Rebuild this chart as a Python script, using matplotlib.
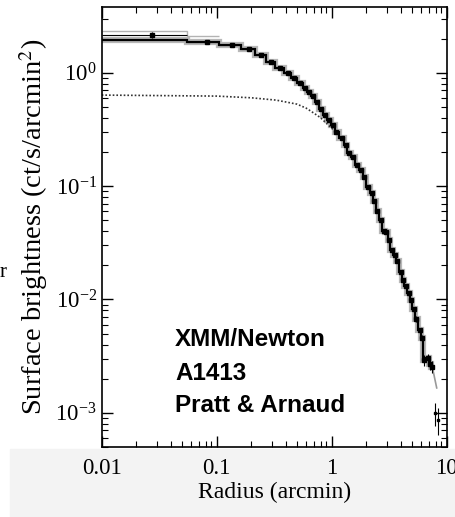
"""Surface brightness profile of A1413 (XMM/Newton)."""
import numpy as np
import matplotlib
matplotlib.use("Agg")
import matplotlib.pyplot as plt
from matplotlib import ticker
from matplotlib.patches import Rectangle

# measured profile (arcmin, ct/s/arcmin^2)
r_data = [0.0272, 0.0819, 0.136, 0.192, 0.244, 0.298, 0.353, 0.413, 0.470, 0.530,
          0.592, 0.639, 0.692, 0.750, 0.807, 0.875, 0.953, 1.03, 1.10, 1.22,
          1.32, 1.42, 1.52, 1.65, 1.80, 1.92, 2.08, 2.23, 2.33, 2.49,
          2.67, 2.85, 2.97, 3.15, 3.32, 3.55, 3.72, 3.98, 4.14, 4.42,
          4.70, 4.89, 5.20, 5.45, 5.87, 6.14, 6.39, 6.84, 7.16, 7.50]
S_data = [2.16, 1.88, 1.76, 1.61, 1.42, 1.236, 1.107, 1.0, 0.898, 0.811,
          0.735, 0.679, 0.625, 0.551, 0.480, 0.428, 0.381, 0.344, 0.301, 0.266,
          0.229, 0.196, 0.181, 0.153, 0.138, 0.120, 0.098, 0.0867, 0.0732, 0.0598,
          0.0507, 0.040, 0.0392, 0.0336, 0.0274, 0.0247, 0.0217, 0.0173, 0.0149, 0.0132,
          0.0113, 0.00993, 0.00822, 0.00678, 0.00536, 0.00461, 0.00291, 0.00303, 0.00268, 0.00255]
S_err = [0.13, 0.05, 0.04, 0.03, 0.025, 0.02, 0.018, 0.016, 0.014, 0.012,
         0.011, 0.010, 0.009, 0.008, 0.007, 0.006, 0.006, 0.005, 0.005, 0.004,
         0.004, 0.004, 0.003, 0.003, 0.003, 0.003, 0.002, 0.002, 0.002, 0.0018,
         0.0015, 0.0013, 0.0012, 0.0011, 0.0009, 0.0008, 0.0007, 0.0006, 0.0006, 0.0005,
         0.0005, 0.0004, 0.0004, 0.0004, 0.0003, 0.0003, 0.0003, 0.0003, 0.0003, 0.0003]
# model step: follows the data except in the central bin
S_model_center = 1.95
band_hi = [2.34, 2.11]          # upper envelope, two central bins

# outermost points and faint tail
r_out = [7.91, 8.46]
S_out = [0.00099, 0.00087]
S_out_err = [0.00023, 0.00023]
tail_r = [7.50, 7.80, 8.19]
tail_S = [0.00255, 0.0021, 0.00166]

# dotted curve
dot_r = [0.01, 0.1, 0.2, 0.33, 0.5, 0.6, 0.7, 0.8, 0.9, 1.0, 1.1]
dot_S = [0.635, 0.622, 0.601, 0.573, 0.528, 0.487, 0.440, 0.401, 0.358, 0.324, 0.295]

plt.rcParams["font.family"] = ["Liberation Serif", "DejaVu Serif"]
plt.rcParams["mathtext.fontset"] = "stix"
plt.rcParams["axes.unicode_minus"] = False

fig = plt.figure(figsize=(4.55, 5.17), dpi=100)
fig.patches.append(Rectangle((0.022, 0), 0.978, 0.131, transform=fig.transFigure,
                             color="#f3f3f3", zorder=-10))
ax = fig.add_axes([0.2235, 0.1354, 0.7582, 0.8511])
ax.patch.set_alpha(0)

r = np.array(r_data)
S = np.array(S_data)
edges = np.concatenate([[0.01, 0.055], np.sqrt(r[1:-1] * r[2:]), [7.8]])
S_model = S.copy()
S_model[0] = S_model_center
xlo = r - edges[:-1]
xhi = edges[1:] - r

ax.stairs(band_hi, edges[:3], color="0.7", lw=1, baseline=None, zorder=1)
ax.stairs(S_model, edges, color="0.72", lw=4.5, baseline=None, zorder=1)
ax.plot(tail_r, tail_S, color="0.6", lw=1.2, zorder=1)
ax.stairs(S_model, edges, color="k", lw=1.6, baseline=None, zorder=2)
ax.errorbar(r, S, yerr=S_err, xerr=[xlo, xhi], fmt="s", color="k", ms=2.5,
            elinewidth=0.8, capsize=0, zorder=3)
ax.errorbar(r_out, S_out, yerr=S_out_err, fmt="s", color="k", ms=2,
            elinewidth=0.8, capsize=0, zorder=3)
ax.plot(dot_r, dot_S, ls=(0, (1, 1.2)), color="0.2", lw=1.2, zorder=1)

ax.set_xscale("log")
ax.set_yscale("log")
ax.set_xlim(0.01, 10)
ax.set_ylim(5e-4, 3.8)
ax.xaxis.set_major_formatter(ticker.FuncFormatter(lambda v, _: f"{v:g}"))
ax.tick_params(which="both", direction="in", top=True, right=True, labelsize=16.5)
ax.tick_params(which="major", length=8, width=1)
ax.tick_params(which="minor", length=4, width=0.8)
ax.tick_params(axis="x", pad=8)
for s in ax.spines.values():
    s.set_linewidth(1.2)

ax.set_xlabel("Radius (arcmin)", fontsize=17, labelpad=2)
ax.set_ylabel("Surface brightness (ct/s/arcmin$^2$)", fontsize=20.5, labelpad=4)

for txt, y in [("XMM/Newton", 346), ("A1413", 380), ("Pratt & Arnaud", 412)]:
    fig.text(175 / 455, 1 - y / 517, txt, fontsize=17.5, fontweight="bold",
             family=["Liberation Sans", "DejaVu Sans"], va="baseline")
fig.text(0.0, 1 - 277 / 517, "r", fontsize=15, va="baseline")

fig.savefig("out.png", dpi=100)
